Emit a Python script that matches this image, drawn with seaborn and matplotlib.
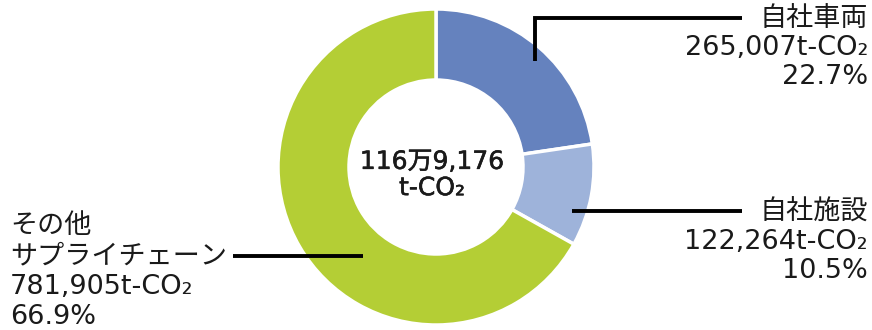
import matplotlib
matplotlib.use("Agg")
import matplotlib.pyplot as plt
import matplotlib.patheffects as pe
import seaborn as sns

categories = ["自社車両", "自社施設", "その他\nサプライチェーン"]
values = [265007, 122264, 781905]
percents = ["22.7%", "10.5%", "66.9%"]
total_label = "116万9,176\nt-CO₂"
colors = ["#6582BE", "#9EB3DA", "#B4CE35"]

sns.set_theme(style="white")
plt.rcParams["font.family"] = ["DejaVu Sans", "Noto Sans CJK JP"]

W, H = 872, 330
fig = plt.figure(figsize=(W / 100, H / 100), dpi=100)
ax = fig.add_axes([0, 0, 1, 1])

cx, cy = 436, H - 167
R_out, R_in = 158, 87
ax.pie(values, colors=colors, startangle=90, counterclock=False,
       center=(cx, cy), radius=R_out, frame=True,
       wedgeprops=dict(width=R_out - R_in, edgecolor="white", linewidth=2.5))
ax.set_xlim(0, W)
ax.set_ylim(0, H)
ax.set_aspect("equal")
ax.axis("off")

fs = 19.5
tc = "#1a1a1a"
ax.text(cx - 4, H - 175, total_label, ha="center", va="center", fontsize=18,
        color=tc, linespacing=1.12,
        path_effects=[pe.withStroke(linewidth=0.4, foreground=tc)])

def fmt(v):
    return f"{v:,}t-CO₂"

lw = 2.8
# 自社車両
ax.plot([535, 535, 742], [H - 61, H - 18, H - 18], color="black", lw=lw,
        solid_capstyle="butt", solid_joinstyle="miter")
ax.text(868, H - 6, f"{categories[0]}\n{fmt(values[0])}\n{percents[0]}",
        ha="right", va="top", fontsize=fs, color=tc, linespacing=1.15,
        multialignment="right")
# 自社施設
ax.plot([572, 742], [H - 211, H - 211], color="black", lw=lw, solid_capstyle="butt")
ax.text(868, H - 200, f"{categories[1]}\n{fmt(values[1])}\n{percents[1]}",
        ha="right", va="top", fontsize=fs, color=tc, linespacing=1.15,
        multialignment="right")
# その他サプライチェーン
ax.plot([233, 363], [H - 256, H - 256], color="black", lw=lw, solid_capstyle="butt")
ax.text(10, H - 213, f"{categories[2]}\n{fmt(values[2])}\n{percents[2]}",
        ha="left", va="top", fontsize=fs, color=tc, linespacing=1.22)

fig.savefig("out.png", dpi=100, facecolor="white")
